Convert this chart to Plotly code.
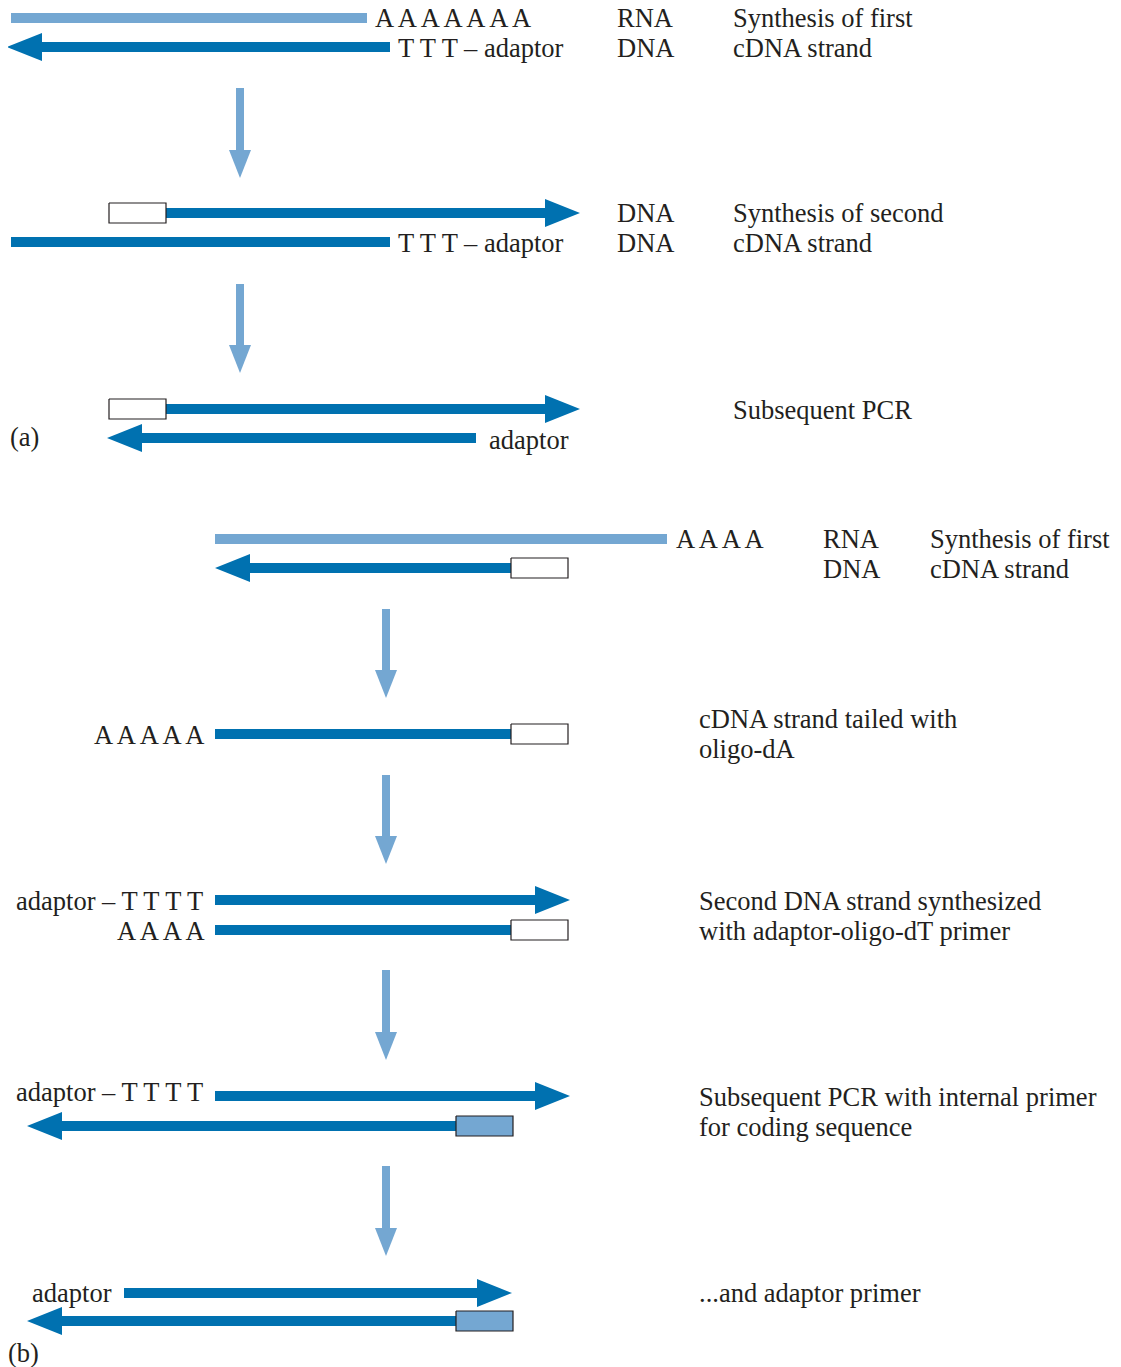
"""
cDNA synthesis / RACE-PCR schematic, panels (a) and (b).
Drawn on a pixel-like coordinate system (x: 0..1121, y: 0..1367 downwards).
"""

import plotly.graph_objects as go

# ============================================================
# Data
# ============================================================
DARK = "#0071B0"
LIGHT = "#74A7D2"
TEXT = "#231F20"
FONT = "Liberation Serif, Times New Roman, serif"

# strands: start x, end x, y, colour kind, arrowhead at end
STRAND_X0 = [11, 390, 166, 11, 166, 476, 215, 511, 215, 215, 215, 215, 456, 124, 456]
STRAND_X1 = [367, 7, 580, 390, 580, 107, 667, 215, 511, 570, 511, 570, 27, 512, 27]
STRAND_Y = [18, 47, 213, 242, 409, 438, 539, 568, 734, 900, 930, 1096, 1126, 1293, 1321]
STRAND_KIND = ["rna", "dna", "dna", "dna", "dna", "dna", "rna", "dna",
               "dna", "dna", "dna", "dna", "dna", "dna", "dna"]
STRAND_HEAD = [False, True, True, False, True, True, False, True,
               False, True, False, True, True, True, True]

# adaptor / primer boxes
BOX_X0 = [109, 109, 511, 511, 511, 456, 456]
BOX_X1 = [166, 166, 568, 568, 568, 513, 513]
BOX_Y = [213, 409, 568, 734, 930, 1126, 1321]
BOX_FILL = ["white", "white", "white", "white", "white", LIGHT, LIGHT]

# step arrows (downwards)
STEP_X = [240, 240, 386, 386, 386, 386]
STEP_Y0 = [88, 284, 609, 775, 970, 1166]
STEP_Y1 = [178, 373, 698, 864, 1060, 1256]

# labels: x, y, text, anchor
LABEL_X = [375, 398, 617, 617, 733, 733,
           398, 617, 617, 733, 733,
           489, 10, 733,
           676, 823, 823, 930, 930,
           205, 699, 699,
           203, 205, 699, 699,
           203, 699, 699,
           32, 699, 8]
LABEL_Y = [18, 48, 18, 48, 18, 48,
           243, 213, 243, 213, 243,
           440, 437, 410,
           539, 539, 569, 539, 569,
           735, 719, 749,
           901, 931, 901, 931,
           1092, 1097, 1127,
           1293, 1293, 1353]
LABEL_TEXT = ["A A A A A A A", "T T T – adaptor", "RNA", "DNA", "Synthesis of first", "cDNA strand",
              "T T T – adaptor", "DNA", "DNA", "Synthesis of second", "cDNA strand",
              "adaptor", "(a)", "Subsequent PCR",
              "A A A A", "RNA", "DNA", "Synthesis of first", "cDNA strand",
              "A A A A A", "cDNA strand tailed with", "oligo-dA",
              "adaptor – T T T T", "A A A A", "Second DNA strand synthesized", "with adaptor-oligo-dT primer",
              "adaptor – T T T T", "Subsequent PCR with internal primer", "for coding sequence",
              "adaptor", "...and adaptor primer", "(b)"]
LABEL_ANCHOR = ["left", "left", "left", "left", "left", "left",
                "left", "left", "left", "left", "left",
                "left", "left", "left",
                "left", "left", "left", "left", "left",
                "right", "left", "left",
                "right", "right", "left", "left",
                "right", "left", "left",
                "left", "left", "left"]

THICK = 10
HEAD_LEN = 35
HEAD_HALF = 14
STEP_W = 8
STEP_HEAD_LEN = 28
STEP_HEAD_HALF = 11
BOX_H = 20
PAGE_PAD = 8  # default body margin of the html page
TEXT_PAD = 2  # annotation box padding


def poly(fig, xs, ys, fill, line_color=None, line_width=0):
    fig.add_trace(go.Scatter(
        x=xs + [xs[0]], y=ys + [ys[0]],
        mode="lines", fill="toself", fillcolor=fill,
        line=dict(color=line_color or fill, width=line_width),
        hoverinfo="skip", showlegend=False,
    ))


fig = go.Figure()

# strands
for x0, x1, y, kind, head in zip(STRAND_X0, STRAND_X1, STRAND_Y, STRAND_KIND, STRAND_HEAD):
    color = LIGHT if kind == "rna" else DARK
    d = 1 if x1 > x0 else -1
    xe = x1 - d * HEAD_LEN if head else x1
    h = THICK / 2
    poly(fig, [x0, xe, xe, x0], [y - h, y - h, y + h, y + h], color)
    if head:
        poly(fig, [xe, x1, xe], [y - HEAD_HALF, y, y + HEAD_HALF], color)

# boxes
for x0, x1, y, fill in zip(BOX_X0, BOX_X1, BOX_Y, BOX_FILL):
    h = BOX_H / 2
    poly(fig, [x0, x1, x1, x0], [y - h, y - h, y + h, y + h], fill, "#231F20", 1.2)

# step arrows
for x, y0, y1 in zip(STEP_X, STEP_Y0, STEP_Y1):
    yb = y1 - STEP_HEAD_LEN
    w = STEP_W / 2
    poly(fig, [x - w, x + w, x + w, x - w], [y0, y0, yb, yb], LIGHT)
    poly(fig, [x - STEP_HEAD_HALF, x + STEP_HEAD_HALF, x], [yb, yb, y1], LIGHT)

# labels
for x, y, t, a in zip(LABEL_X, LABEL_Y, LABEL_TEXT, LABEL_ANCHOR):
    fig.add_annotation(
        x=x, y=y, text=t, showarrow=False,
        xanchor=a, yanchor="middle",
        xshift=-TEXT_PAD if a == "left" else TEXT_PAD,
        font=dict(family=FONT, size=26.5, color=TEXT),
    )

fig.update_layout(
    width=1121 - PAGE_PAD, height=1367 - PAGE_PAD,
    margin=dict(l=0, r=0, t=0, b=0),
    paper_bgcolor="white", plot_bgcolor="white",
    xaxis=dict(range=[PAGE_PAD, 1121], visible=False, fixedrange=True),
    yaxis=dict(range=[1367, PAGE_PAD], visible=False, fixedrange=True),
    showlegend=False,
)

fig.write_html("out.html")
